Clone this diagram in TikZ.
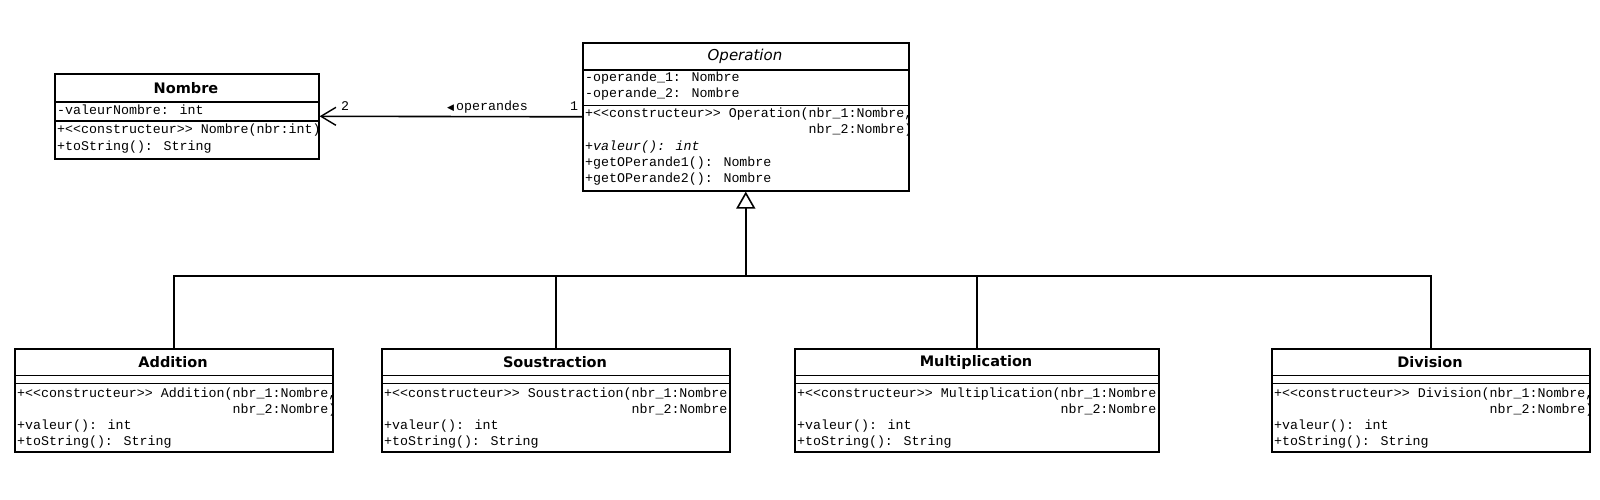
\documentclass[tikz,border=0pt]{standalone}
\usepackage{fontspec}
\usetikzlibrary{arrows.meta}
\newfontfamily\monof[Ligatures=TeXOff]{Liberation Mono}
\newfontfamily\titlef{DejaVu Sans}
\newfontfamily\symf{DejaVu Sans}
\tikzset{
  boxline/.style={draw,line width=1.6pt},
  classbox/.style={boxline,fill=white,inner sep=0pt,anchor=north west},
  sepline/.style={line width=1.6pt},
  conn/.style={line width=1.6pt},
  member/.style={font=\monof\fontsize{13.3}{16}\selectfont,anchor=west,inner sep=0pt,text height=9pt,text depth=3pt},
  titletext/.style={font=\titlef\bfseries\fontsize{14.5}{17}\selectfont,inner sep=0pt},
  abstracttitle/.style={font=\titlef\itshape\fontsize{15}{17}\selectfont,inner sep=0pt},
}
\newcommand\subclass[4]{%
  \node[classbox,minimum width={#3-#2},minimum height=103] (#1) at (#2,348) {};
  \draw[sepline] (#2,375.5) -- (#3,375.5);
  \draw[sepline] (#2,383.5) -- (#3,383.5);
  \node[titletext] (#1-t) at ({(#2+#3)/2},362) {#4};
  \begin{scope}
    \clip (#2,348) rectangle ({#3-1},451);
    \node[member] (#1-c1) at ({#2+3},394) {+<<constructeur>> #4(nbr\_1:Nombre,};
    \node[member] (#1-c2) at ({#2+3},410) {\hphantom{+<<constructeur>> #4(}nbr\_2:Nombre)};
    \node[member] (#1-v) at ({#2+3},426) {+valeur(): int};
    \node[member] (#1-s) at ({#2+3},442) {+toString(): String};
  \end{scope}}
\begin{document}
\begin{tikzpicture}[x=1pt,y=-1pt]
\useasboundingbox (0,0) rectangle (1600,500);

% Nombre
\node[classbox,minimum width=264,minimum height=85] (nombre) at (54,73) {};
\draw[sepline] (54,102) -- (318,102);
\draw[sepline] (54,121) -- (318,121);
\node[titletext] (nombre-t) at (186,88) {Nombre};
\begin{scope}
  \clip (54,73) rectangle (317,158);
  \node[member] (nombre-a) at (57,111) {-valeurNombre: int};
  \node[member] (nombre-c) at (57,131) {+<<constructeur>> Nombre(nbr:int)};
  \node[member] (nombre-s) at (57,147.5) {+toString(): String};
\end{scope}

% Operation
\node[classbox,minimum width=326,minimum height=148] (operation) at (582,42) {};
\draw[sepline] (582,70) -- (908,70);
\draw[sepline] (582,105.5) -- (908,105.5);
\node[abstracttitle] (operation-t) at (745,56) {Operation};
\begin{scope}
  \clip (582,42) rectangle (907,190);
  \node[member] (operation-a1) at (585,79) {-operande\_1: Nombre};
  \node[member] (operation-a2) at (585,95) {-operande\_2: Nombre};
  \node[member] (operation-c1) at (585,114.5) {+<<constructeur>> Operation(nbr\_1:Nombre,};
  \node[member] (operation-c2) at (585,130.5) {\hphantom{+<<constructeur>> Operation(}nbr\_2:Nombre)};
  \node[member] (operation-v) at (585,147) {\itshape +valeur(): int};
  \node[member] (operation-g1) at (585,163) {+getOPerande1(): Nombre};
  \node[member] (operation-g2) at (585,179.5) {+getOPerande2(): Nombre};
\end{scope}

% Subclasses
\subclass{addition}{14}{332}{Addition}
\subclass{soustraction}{381}{729}{Soustraction}
\subclass{multiplication}{794}{1158}{Multiplication}
\subclass{division}{1271}{1589}{Division}

% Association
\draw[conn,-{Straight Barb[length=15pt,width=18pt,line width=1.4pt]}] (operation.west) -- (nombre.east);
\node[member] (mult-two) at (341,107.5) {2};
\node[member] (assoc-label) at (447,107.5) {{\symf\fontsize{9}{9}\selectfont ◀}\hspace{2pt}operandes};
\node[member] (mult-one) at (570,107.5) {1};

% Generalization
\coordinate (hub) at (operation.south |- 0,276);
\draw[conn] (addition.north) |- (hub);
\draw[conn] (soustraction.north) |- (hub);
\draw[conn] (multiplication.north) |- (hub);
\draw[conn] (division.north) |- (hub);
\draw[conn,-{Triangle[open,length=17pt,width=19pt,fill=white]}] (hub) -- (operation.south);
\end{tikzpicture}
\end{document}
